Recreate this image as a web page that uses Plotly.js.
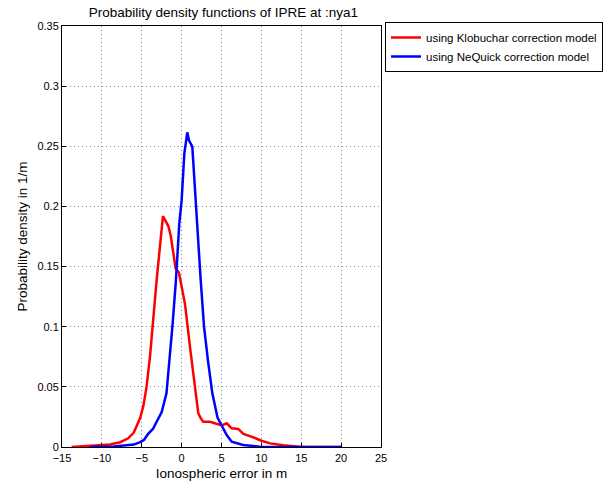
<!DOCTYPE html>
<html>
<head>
<meta charset="utf-8">
<script src="https://cdn.plot.ly/plotly-3.0.1.min.js"></script>
<style>html,body{margin:0;padding:0;background:#fff;}#chart{width:612px;height:483px;}</style>
</head>
<body>
<div id="chart"></div>
<script>
// Klobuchar correction model (red)
const klobX = [-13.8, -11.5, -9.0, -7.7, -6.7, -6.0, -5.6, -5.2, -4.8, -4.4, -3.97, -3.55, -3.13, -2.34, -1.67, -1.38, -1.05, -0.75, -0.34, 0.09, 0.42, 1.05, 1.68, 2.09, 2.4, 2.72, 3.56, 4.4, 5.03, 5.65, 6.28, 7.1, 7.75, 9.0, 10.0, 11.1, 12.75, 14.8, 17, 20];
const klobY = [0, 0.001, 0.002, 0.004, 0.0072, 0.012, 0.018, 0.024, 0.034, 0.050, 0.075, 0.108, 0.139, 0.192, 0.1837, 0.176, 0.161, 0.1485, 0.145, 0.1305, 0.119, 0.083, 0.047, 0.028, 0.024, 0.021, 0.021, 0.019, 0.018, 0.0197, 0.0155, 0.015, 0.0108, 0.008, 0.0052, 0.003, 0.0014, 0.0003, 0.0001, 0];
// NeQuick correction model (blue)
const neqX = [-11.5, -8.5, -6.9, -6.0, -5.2, -4.7, -4.2, -3.6, -3.13, -2.5, -1.9, -1.55, -1.12, -0.71, -0.29, 0.0, 0.34, 0.71, 0.92, 1.34, 1.76, 2.18, 2.39, 2.81, 3.3, 3.85, 4.5, 5.03, 5.65, 6.28, 7.7, 9.8, 13, 20];
const neqY = [0, 0.0005, 0.0014, 0.002, 0.004, 0.006, 0.011, 0.015, 0.021, 0.029, 0.0446, 0.070, 0.103, 0.139, 0.186, 0.205, 0.244, 0.2616, 0.255, 0.2497, 0.1998, 0.161, 0.139, 0.100, 0.072, 0.0446, 0.0245, 0.0175, 0.010, 0.0044, 0.0017, 0.0003, 0.0001, 0];

const seriesNames = ['using Klobuchar correction model', 'using NeQuick correction model'];
const xTicks = [-15, -10, -5, 0, 5, 10, 15, 20, 25];
const yTicks = [0, 0.05, 0.1, 0.15, 0.2, 0.25, 0.3, 0.35];

const font = 'Liberation Sans, Arial, sans-serif';

const traces = [
  {x: klobX, y: klobY, name: seriesNames[0], mode: 'lines', line: {color: '#ff0000', width: 2.5}},
  {x: neqX, y: neqY, name: seriesNames[1], mode: 'lines', line: {color: '#0000ff', width: 2.5}}
];

const axisCommon = {
  showline: true, mirror: true, linecolor: '#000', linewidth: 1,
  ticks: 'inside', ticklen: 4, tickcolor: '#000',
  showgrid: true, gridcolor: '#888', griddash: '1px,3px', gridwidth: 1,
  zeroline: false, tickfont: {family: font, size: 11, color: '#000'}
};

const layout = {
  width: 612, height: 483,
  margin: {l: 62, r: 231, t: 26, b: 36, autoexpand: false},
  paper_bgcolor: '#fff', plot_bgcolor: '#fff',
  font: {family: font, color: '#000'},
  title: {text: 'Probability density functions of IPRE at :nya1', font: {family: font, size: 13.5, color: '#000'}, x: 0.365, xanchor: 'center', y: 0.975, yanchor: 'middle'},
  xaxis: Object.assign({}, axisCommon, {range: [-15, 25], tickvals: xTicks, ticklabelstandoff: 1, title: {text: 'Ionospheric error in m', font: {family: font, size: 13.5}, standoff: 5}}),
  yaxis: Object.assign({}, axisCommon, {range: [0, 0.35], tickvals: yTicks, title: {text: 'Probability density in 1/m', font: {family: font, size: 13.5}, standoff: 6}}),
  showlegend: true,
  legend: {x: 1.0125, y: 1.0095, xanchor: 'left', yanchor: 'top', bgcolor: '#fff', bordercolor: '#000', borderwidth: 1, font: {family: font, size: 11.5, color: '#000'}, tracegroupgap: 0, itemwidth: 30}
};

Plotly.newPlot('chart', traces, layout, {staticPlot: true, displayModeBar: false});
</script>
</body>
</html>
